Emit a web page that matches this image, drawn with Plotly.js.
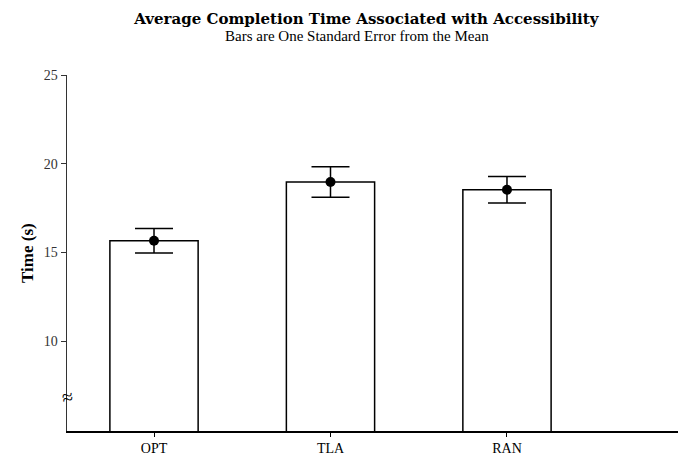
<!DOCTYPE html>
<html>
<head>
<meta charset="utf-8">
<script src="https://cdn.plot.ly/plotly-3.0.1.min.js"></script>
<style>html,body{margin:0;padding:0;background:#fff;}#chart{width:678px;height:457px;}</style>
</head>
<body>
<div id="chart"></div>
<script>
const categories = ["OPT", "TLA", "RAN"];
const meanTimes = [15.66, 18.97, 18.53];
const stdErrors = [0.69, 0.86, 0.75];
const yTickValues = [10, 15, 20, 25];
const yTickLabels = ["10", "15", "20", "25"];

const serif = "Liberation Serif, Times New Roman, serif";

const bars = {
  type: "bar",
  x: categories,
  y: meanTimes,
  width: 0.5,
  marker: {color: "#ffffff", line: {color: "#000000", width: 1.5}},
  hoverinfo: "skip",
  showlegend: false
};

const points = {
  type: "scatter",
  mode: "markers",
  x: categories,
  y: meanTimes,
  marker: {color: "#000000", size: 10},
  error_y: {type: "data", array: stdErrors, visible: true, color: "#000000", thickness: 1.5, width: 19},
  showlegend: false
};

const layout = {
  width: 678,
  height: 457,
  margin: {l: 67, r: 0, t: 75, b: 26},
  paper_bgcolor: "#ffffff",
  plot_bgcolor: "#ffffff",
  font: {family: serif, size: 13, color: "#000000"},
  title: {
    text: "Average Completion Time Associated with Accessibility",
    font: {family: "DejaVu Serif, serif", size: 15, color: "#000000", weight: "bold"},
    x: 0.49, xref: "paper", xanchor: "center",
    y: 0.958, yref: "container", yanchor: "middle"
  },
  xaxis: {
    type: "category",
    range: [-0.493, 2.969],
    showline: true, linecolor: "#000000", linewidth: 1.5,
    ticks: "outside", ticklen: 4, tickcolor: "#000000", tickwidth: 1,
    showgrid: false, zeroline: false,
    tickfont: {family: serif, size: 14, color: "#000000"},
    fixedrange: true
  },
  yaxis: {
    range: [4.93, 25],
    showline: true, linecolor: "#333333", linewidth: 1.5,
    ticks: "outside", ticklen: 5, tickcolor: "#333333", tickwidth: 1,
    tickvals: yTickValues, ticktext: yTickLabels,
    showgrid: false, zeroline: false,
    tickfont: {family: serif, size: 14, color: "#333333"},
    fixedrange: true
  },
  annotations: [
    {text: "Bars are One Standard Error from the Mean", xref: "paper", yref: "paper",
     x: 0.475, y: 1.1096, showarrow: false, xanchor: "center", yanchor: "middle",
     font: {family: serif, size: 15, color: "#000000"}},
    {text: "<b>Time (s)</b>", xref: "paper", yref: "paper", x: -0.0655, y: 0.5,
     textangle: -90, showarrow: false, xanchor: "center", yanchor: "middle",
     font: {family: serif, size: 17, color: "#000000"}},
    {text: "≈", xref: "paper", yref: "y", x: 0, y: 6.84, showarrow: false,
     xanchor: "center", yanchor: "middle", textangle: -10,
     font: {family: serif, size: 20, color: "#000000"}}
  ]
};

Plotly.newPlot("chart", [bars, points], layout, {displayModeBar: false, staticPlot: true});
</script>
</body>
</html>
